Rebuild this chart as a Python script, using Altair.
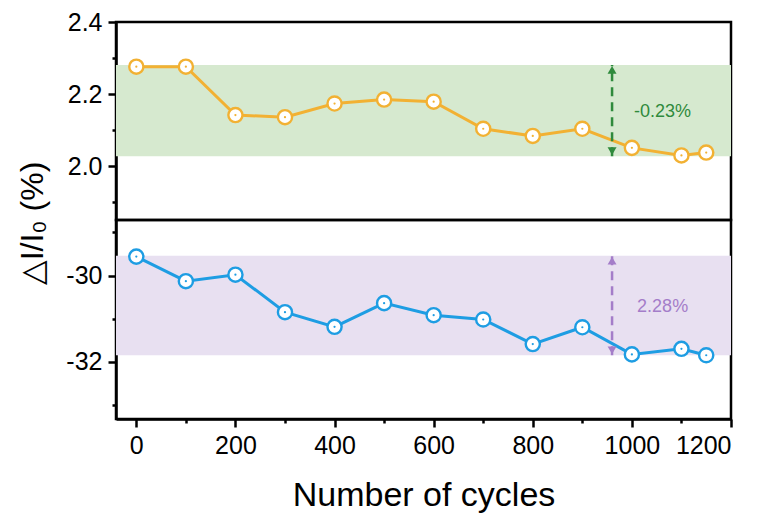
import altair as alt
import pandas as pd

# ---- data ----
cycles = [0, 100, 200, 300, 400, 500, 600, 700, 800, 900, 1000, 1100, 1150]
upper_vals = [2.276, 2.276, 2.142, 2.136, 2.174, 2.185, 2.179, 2.104, 2.084, 2.104, 2.051, 2.030, 2.038]
lower_vals = [-29.56, -30.13, -29.98, -30.85, -31.19, -30.64, -30.92, -31.02, -31.59, -31.20, -31.83, -31.70, -31.85]

upper_band = [2.028, 2.281]
lower_band = [-31.85, -29.54]
upper_change = "-0.23%"
lower_change = "2.28%"
arrow_x = [960]
label_x = [1062]
upper_label_y = [2.150]
lower_label_y = [-30.73]

x_ticks = [0, 100, 200, 300, 400, 500, 600, 700, 800, 900, 1000, 1100, 1200]
upper_ticks = [1.9, 2.0, 2.1, 2.2, 2.3, 2.4]
lower_ticks = [-33, -32, -31, -30, -29]
x_domain = [-41, 1200]
upper_domain = [1.851, 2.4]
lower_domain = [-33.33, -28.71]

W = 615
H1 = 198
H2 = 199
FONT = "Liberation Sans"

ORANGE = "#F2B133"
BLUE = "#1E9DE3"
GREEN_BAND = "#D6E9CF"
PURPLE_BAND = "#E8E0F1"
GREEN_TXT = "#2F8A3C"
PURPLE_TXT = "#A47DC9"


def panel(vals, color, band, band_color, txt_color, change, label_y, yticks, ydomain, minor_test, label_expr, bottom):
    df = pd.DataFrame({"cycle": cycles, "v": vals})
    xscale = alt.Scale(domain=x_domain, nice=False, zero=False)
    yscale = alt.Scale(domain=ydomain, nice=False, zero=False)
    if bottom:
        xaxis = alt.Axis(
            values=x_ticks,
            format="d",
            labelExpr="datum.value % 200 == 0 ? datum.label : ''",
            tickSize={"condition": {"test": "datum.value % 200 != 0", "value": 4}, "value": 8},
            title="Number of cycles",
            titleFontSize=34,
            titleFont=FONT,
            titleFontWeight="normal",
            titleBaseline="alphabetic",
            titleY=86,
            labelPadding=6,
        )
    else:
        xaxis = None
    yaxis_kw = dict(
        values=yticks,
        labelExpr=label_expr,
        tickSize={"condition": {"test": minor_test, "value": 4}, "value": 8},
        labelPadding=6,
    )
    if not bottom:
        yaxis_kw.update(
            title="△I/I₀ (%)",
            titleFontSize=32,
            titleFont=FONT,
            titleFontWeight="normal",
            titleAngle=270,
            titleX=-84,
            titleY=201,
            titleAlign="center",
            titleBaseline="middle",
        )
    else:
        yaxis_kw.update(title=None)
    yaxis = alt.Axis(**yaxis_kw)

    X = lambda f: alt.X(f, scale=xscale, axis=xaxis)
    Y = lambda f: alt.Y(f, scale=yscale, axis=yaxis)

    band_df = pd.DataFrame({"lo": [band[0]], "hi": [band[1]]})
    band_layer = alt.Chart(band_df).mark_rect(color=band_color, opacity=1).encode(
        x=alt.value(0), x2=alt.value(W),
        y=Y("lo:Q"), y2="hi:Q",
    )
    line = alt.Chart(df).mark_line(color=color, strokeWidth=3).encode(
        x=X("cycle:Q"), y=Y("v:Q"),
    )
    rings = alt.Chart(df).mark_point(
        filled=True, fill="white", stroke=color, strokeWidth=2.4, size=200, opacity=1
    ).encode(x=X("cycle:Q"), y=Y("v:Q"))
    dots = alt.Chart(df).mark_point(filled=True, color=color, size=5, opacity=1).encode(
        x=X("cycle:Q"), y=Y("v:Q")
    )
    arr_df = pd.DataFrame({"ax": arrow_x, "lo": [band[0]], "hi": [band[1]]})
    rule = alt.Chart(arr_df).mark_rule(color=txt_color, strokeWidth=2.5, strokeDash=[9, 6]).encode(
        x=X("ax:Q"), y=Y("lo:Q"), y2="hi:Q"
    )
    head_up = alt.Chart(arr_df).mark_point(
        shape="triangle-up", filled=True, color=txt_color, size=80, opacity=1, yOffset=5
    ).encode(x=X("ax:Q"), y=Y("hi:Q"))
    head_dn = alt.Chart(arr_df).mark_point(
        shape="triangle-down", filled=True, color=txt_color, size=80, opacity=1, yOffset=-5
    ).encode(x=X("ax:Q"), y=Y("lo:Q"))
    txt_df = pd.DataFrame({"tx": label_x, "ty": label_y, "t": [change]})
    txt = alt.Chart(txt_df).mark_text(
        color=txt_color, fontSize=18, font=FONT, align="center", baseline="middle"
    ).encode(x=X("tx:Q"), y=Y("ty:Q"), text="t:N")

    h = H2 if bottom else H1
    return alt.layer(band_layer, line, rings, dots, rule, head_up, head_dn, txt).properties(
        width=W, height=h
    )


top = panel(
    upper_vals, ORANGE, upper_band, GREEN_BAND, GREEN_TXT, upper_change, upper_label_y,
    upper_ticks, upper_domain,
    "round(datum.value * 10) % 2 == 1",
    "round(datum.value * 10) % 2 == 0 ? format(datum.value, '.1f') : ''",
    False,
)
bottom = panel(
    lower_vals, BLUE, lower_band, PURPLE_BAND, PURPLE_TXT, lower_change, lower_label_y,
    lower_ticks, lower_domain,
    "abs(datum.value) % 2 == 1",
    "abs(datum.value) % 2 == 0 ? toString(datum.value) : ''",
    True,
)

chart = alt.vconcat(top, bottom, spacing=0, bounds="flush").properties(
    padding={"left": 6, "top": 0, "right": 5, "bottom": 5}
).configure(
    background="white"
).configure_view(
    stroke="black", strokeWidth=2.5
).configure_axis(
    grid=False,
    domainColor="black",
    domainWidth=2.5,
    tickColor="black",
    tickWidth=2.5,
    labelFont=FONT,
    labelFontSize=25,
    labelColor="black",
    titleColor="black",
)

chart.save("out.html", embed_options={"renderer": "svg", "actions": False})
